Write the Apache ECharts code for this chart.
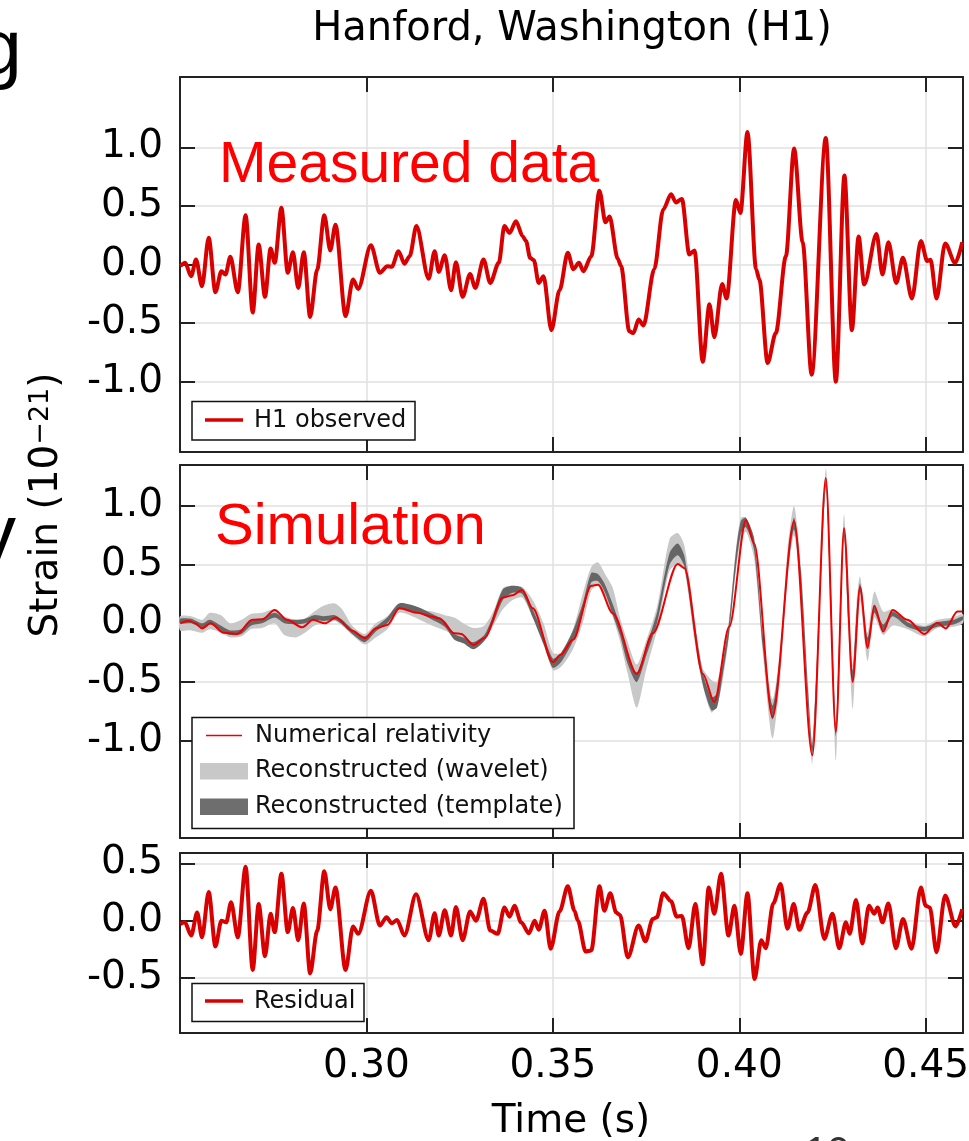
<!DOCTYPE html>
<html><head><meta charset="utf-8">
<script src="https://cdn.jsdelivr.net/npm/echarts@6/dist/echarts.min.js"></script>
<style>html,body{margin:0;padding:0;background:#fff}#c{width:969px;height:1141px}</style>
</head><body><div id="c"></div>
<script>
// ---------------- data ----------------
const xRange = [0.25, 0.46];
const xTicks = [0.30, 0.35, 0.40, 0.45];
const yTicksStrain = [-1.0, -0.5, 0.0, 0.5, 1.0];
const yTicksResidual = [-0.5, 0.0, 0.5];
const yRangeObserved = [-1.6, 1.6];
const yRangeSimulation = [-1.83, 1.35];
const yRangeResidual = [-0.98, 0.59];

const h1Time = [0.2501,0.2514,0.2530,0.2543,0.2559,0.2577,0.2595,0.2611,0.2622,0.2635,0.2655,0.2676,0.2695,0.2711,0.2728,0.2743,0.2754,0.2772,0.2789,0.2803,0.2817,0.2832,0.2849,0.2868,0.2887,0.2903,0.2917,0.2944,0.2964,0.2978,0.3012,0.3036,0.3056,0.3068,0.3086,0.3102,0.3116,0.3134,0.3167,0.3183,0.3194,0.3210,0.3227,0.3240,0.3258,0.3278,0.3292,0.3314,0.3332,0.3355,0.3370,0.3384,0.3401,0.3419,0.3428,0.3439,0.3449,0.3462,0.3475,0.3496,0.3518,0.3540,0.3555,0.3570,0.3582,0.3603,0.3625,0.3641,0.3652,0.3674,0.3683,0.3705,0.3716,0.3730,0.3743,0.3772,0.3796,0.3817,0.3830,0.3846,0.3866,0.3880,0.3902,0.3920,0.3933,0.3954,0.3966,0.3991,0.4003,0.4022,0.4045,0.4054,0.4076,0.4098,0.4125,0.4147,0.4170,0.4194,0.4232,0.4259,0.4282,0.4302,0.4320,0.4335,0.4368,0.4384,0.4400,0.4421,0.4439,0.4463,0.4487,0.4504,0.4513,0.4529,0.4552,0.4579,0.4598];
const h1Strain = [-0.014,0.014,-0.10,0.043,-0.185,0.228,-0.236,-0.057,-0.085,0.066,-0.236,0.42,-0.41,0.17,-0.276,0.137,0.014,0.484,-0.071,0.105,-0.20,0.105,-0.447,-0.043,0.42,0.12,0.34,-0.44,-0.128,-0.208,0.165,-0.071,-0.014,-0.02,0.114,0.006,0.071,0.328,-0.122,0.114,-0.063,0.08,-0.22,0.02,-0.276,-0.08,-0.20,0.043,-0.157,0.014,0.328,0.27,0.37,0.242,0.20,0.057,0.037,-0.157,-0.10,-0.56,-0.22,0.10,-0.04,0.014,-0.057,0.07,0.63,0.36,0.41,0.05,-0.014,-0.57,-0.585,-0.47,-0.52,-0.04,0.47,0.60,0.53,0.56,0.086,0.12,-0.83,-0.34,-0.62,-0.166,-0.29,0.55,0.44,1.13,-0.04,-0.13,-0.84,-0.585,0.07,0.99,0.19,-0.94,1.08,-1.00,0.76,-0.56,0.24,-0.17,0.26,-0.086,0.19,-0.157,0.057,-0.29,0.20,0.03,0.04,-0.29,0.18,0.014,0.19];

const nrTime = [0.2501,0.2523,0.2541,0.2559,0.2582,0.2617,0.2653,0.2694,0.2721,0.2754,0.2787,0.2828,0.2857,0.2889,0.2918,0.2962,0.2996,0.3025,0.3056,0.3088,0.3137,0.3177,0.3195,0.3236,0.3254,0.3287,0.3316,0.3366,0.3392,0.3418,0.3446,0.3500,0.3520,0.3554,0.3603,0.3621,0.3661,0.3725,0.3768,0.3835,0.3853,0.3902,0.3933,0.3973,0.4018,0.4040,0.4089,0.4147,0.4196,0.4232,0.4259,0.4281,0.4304,0.4324,0.4344,0.4362,0.4386,0.4411,0.4451,0.4496,0.4531,0.4554,0.4585,0.4598];
const nrStrain = [0,0.023,0,-0.043,0,-0.08,-0.09,0.03,0.034,0.114,0.03,-0.034,0.03,0,0.05,-0.063,-0.128,-0.043,-0.014,0.128,0.09,0.057,0.043,-0.085,-0.09,-0.185,-0.128,0.22,0.24,0.285,0.128,-0.33,-0.27,-0.14,0.32,0.33,0.085,-0.43,-0.085,0.507,0.47,-0.43,-0.67,-0.03,0.88,0.68,-0.80,0.87,-1.125,1.24,-0.925,0.81,-0.50,0.31,-0.21,0.15,-0.07,0.114,0.03,-0.09,0.006,-0.043,0.10,0.10];

const bandTime = [0.2500,0.2530,0.2560,0.2580,0.2610,0.2635,0.2665,0.2690,0.2720,0.2754,0.2780,0.2810,0.2835,0.2860,0.2885,0.2915,0.2935,0.2962,0.2996,0.3025,0.3056,0.3088,0.3137,0.3177,0.3210,0.3236,0.3260,0.3287,0.3316,0.3340,0.3366,0.3392,0.3418,0.3446,0.3475,0.3500,0.3522,0.3554,0.3580,0.3603,0.3621,0.3640,0.3661,0.3680,0.3700,0.3725,0.3750,0.3780,0.3813,0.3835,0.3853,0.3880,0.3902,0.3925,0.3940,0.3955,0.3973,0.3990,0.4004,0.4018,0.4040,0.4063,0.4089,0.4110,0.4130,0.4147,0.4165,0.4185,0.4196,0.4210,0.4232,0.4245,0.4259,0.4270,0.4281,0.4293,0.4304,0.4315,0.4324,0.4344,0.4362,0.4386,0.4411,0.4451,0.4496,0.4531,0.4575,0.4600];
const templateLow  = [0.00,0.00,-0.04,-0.01,-0.06,-0.10,-0.09,-0.02,0.00,0.05,0.00,-0.01,0.00,0.03,0.02,0.03,-0.01,-0.09,-0.16,-0.07,0.00,0.12,0.09,0.03,-0.03,-0.14,-0.17,-0.22,-0.15,0.00,0.20,0.26,0.25,0.05,-0.18,-0.38,-0.33,-0.15,0.08,0.35,0.36,0.26,0.07,-0.10,-0.34,-0.50,-0.28,0.01,0.50,0.58,0.48,-0.10,-0.52,-0.74,-0.72,-0.45,-0.08,0.45,0.76,0.82,0.62,-0.20,-0.82,-0.36,0.45,0.80,0.30,-0.72,-1.12,-0.30,1.16,0.20,-0.96,-0.10,0.74,0.00,-0.50,0.00,0.27,-0.20,0.09,-0.06,0.06,-0.03,-0.07,-0.03,-0.01,0.03];
const templateHigh = [0.04,0.04,0.00,0.03,-0.02,-0.06,-0.05,0.02,0.04,0.09,0.04,0.03,0.04,0.07,0.06,0.07,0.03,-0.05,-0.11,-0.03,0.05,0.17,0.14,0.08,0.02,-0.09,-0.12,-0.16,-0.10,0.07,0.29,0.32,0.30,0.12,-0.10,-0.30,-0.25,-0.06,0.17,0.43,0.42,0.33,0.16,-0.02,-0.25,-0.42,-0.20,0.10,0.60,0.68,0.57,0.00,-0.42,-0.63,-0.60,-0.35,0.02,0.58,0.87,0.90,0.72,-0.10,-0.70,-0.25,0.55,0.90,0.45,-0.60,-1.04,-0.20,1.24,0.35,-0.85,0.05,0.82,0.10,-0.40,0.10,0.34,-0.12,0.14,-0.01,0.10,0.01,-0.03,0.01,0.03,0.06];
const waveletLow  = [-0.06,-0.06,-0.08,-0.05,-0.08,-0.12,-0.11,-0.05,-0.04,0.00,-0.10,-0.12,-0.08,-0.02,0.00,0.02,-0.02,-0.10,-0.18,-0.12,-0.05,0.09,0.04,-0.02,-0.06,-0.10,-0.13,-0.16,-0.14,-0.02,0.12,0.20,0.22,0.05,-0.15,-0.40,-0.37,-0.22,0.00,0.28,0.33,0.22,0.05,-0.15,-0.42,-0.72,-0.40,-0.05,0.45,0.50,0.45,-0.15,-0.53,-0.76,-0.70,-0.50,-0.10,0.42,0.70,0.78,0.55,-0.25,-0.98,-0.45,0.40,0.75,0.25,-0.75,-1.20,-0.35,1.15,0.20,-1.17,-0.15,0.70,-0.10,-0.73,-0.15,0.20,-0.32,0.05,-0.10,-0.02,-0.05,-0.11,-0.04,-0.03,0.00];
const waveletHigh = [0.06,0.06,0.03,0.09,0.07,0.00,0.03,0.08,0.09,0.12,0.06,0.03,0.04,0.10,0.15,0.17,0.12,-0.02,-0.09,0.00,0.06,0.17,0.12,0.10,0.07,0.05,0.00,-0.04,-0.02,0.10,0.30,0.32,0.31,0.20,0.00,-0.25,-0.25,-0.05,0.25,0.48,0.52,0.42,0.30,0.05,-0.15,-0.35,-0.15,0.15,0.72,0.77,0.66,0.05,-0.38,-0.48,-0.50,-0.30,0.05,0.60,0.90,0.90,0.72,-0.05,-0.65,-0.20,0.65,1.00,0.50,-0.55,-1.00,-0.15,1.32,0.40,-0.85,0.10,0.93,0.15,-0.35,0.20,0.40,-0.08,0.27,0.10,0.12,0.03,-0.02,0.03,0.05,0.08];

const resTime = [0.2501,0.2513,0.2530,0.2546,0.2559,0.2577,0.2595,0.2611,0.2624,0.2637,0.2655,0.2676,0.2695,0.2711,0.2728,0.2743,0.2754,0.2772,0.2789,0.2803,0.2817,0.2832,0.2849,0.2868,0.2887,0.2903,0.2917,0.2944,0.2964,0.2978,0.3012,0.3036,0.3054,0.3068,0.3082,0.3102,0.3133,0.3167,0.3183,0.3194,0.3210,0.3227,0.3240,0.3258,0.3278,0.3294,0.3314,0.3332,0.3352,0.3370,0.3384,0.3397,0.3415,0.3436,0.3451,0.3462,0.3478,0.3494,0.3518,0.3540,0.3558,0.3567,0.3588,0.3603,0.3625,0.3638,0.3654,0.3670,0.3680,0.3701,0.3730,0.3748,0.3768,0.3779,0.3796,0.3817,0.3832,0.3846,0.3864,0.3882,0.3902,0.3918,0.3933,0.3951,0.3971,0.3987,0.4004,0.4022,0.4041,0.4059,0.4071,0.4091,0.4111,0.4129,0.4146,0.4161,0.4183,0.4204,0.4228,0.4250,0.4268,0.4286,0.4296,0.4313,0.4330,0.4348,0.4362,0.4371,0.4384,0.4400,0.4420,0.4439,0.4462,0.4487,0.4500,0.4511,0.4529,0.4552,0.4580,0.4598];
const resStrain = [-0.03,-0.015,-0.13,0.07,-0.145,0.25,-0.225,0,-0.015,0.16,-0.145,0.47,-0.43,0.145,-0.31,0.06,-0.10,0.41,-0.10,0.11,-0.17,0.15,-0.46,-0.087,0.43,0.10,0.29,-0.43,-0.05,-0.115,0.26,-0.043,0.03,-0.023,0.006,-0.13,0.23,-0.17,0.064,-0.13,0.09,-0.13,0.12,-0.17,0.08,0,0.19,-0.087,-0.115,0.115,0.035,0.13,-0.015,-0.11,0,-0.08,0.087,-0.245,0.08,0.30,0.087,0,-0.27,-0.26,0.30,0.087,0.24,0.07,0.05,-0.32,-0.043,-0.18,0.014,0.03,0.24,0.17,0.035,0.04,-0.24,0.145,-0.38,0.29,0.06,0.41,-0.13,0.13,-0.29,0.24,-0.51,-0.17,-0.24,0.15,0.32,-0.07,0.145,-0.08,0.07,0.31,-0.16,0.06,-0.24,-0.015,-0.115,0.18,-0.20,0.13,0.06,0.115,-0.015,0.15,-0.24,0.014,-0.245,0.29,0.13,0.115,-0.275,0.22,-0.05,0.10];

// ---------------- chart ----------------
const FONT = 'DejaVu Sans';
const SLIDE_FONT = 'Liberation Sans';
const FRAME = '#222';
const GRIDC = '#e0e0e0';
const zip = (a, b) => a.map((v, i) => [v, b[i]]);

const grids = [
  {left: 180, top: 77, width: 783, height: 375, outerBoundsMode: 'none'},
  {left: 180, top: 465, width: 783, height: 373, outerBoundsMode: 'none'},
  {left: 180, top: 853, width: 783, height: 180, outerBoundsMode: 'none'}
];
const yRanges = [yRangeObserved, yRangeSimulation, yRangeResidual];
const yTickSets = [yTicksStrain, yTicksStrain, yTicksResidual];

const xAxes = [], yAxes = [];
grids.forEach((g, i) => {
  const tick = {show: true, inside: true, length: 15, lineStyle: {color: FRAME, width: 2}};
  const line = {show: true, onZero: false, lineStyle: {color: FRAME, width: 2}};
  xAxes.push({type: 'value', gridIndex: i, position: 'bottom', min: xRange[0], max: xRange[1],
    axisLine: line, axisTick: Object.assign({customValues: xTicks}, tick),
    axisLabel: {show: i === 2, customValues: xTicks, margin: 14, fontSize: 39, fontFamily: FONT, color: '#000',
      formatter: v => v.toFixed(2)},
    splitLine: {show: true, lineStyle: {color: GRIDC, width: 1.5}}});
  xAxes.push({type: 'value', gridIndex: i, position: 'top', min: xRange[0], max: xRange[1],
    axisLine: line, axisTick: Object.assign({customValues: xTicks}, tick),
    axisLabel: {show: false}, splitLine: {show: false}});
  yAxes.push({type: 'value', gridIndex: i, position: 'left', min: yRanges[i][0], max: yRanges[i][1],
    axisLine: line, axisTick: Object.assign({customValues: yTickSets[i]}, tick),
    axisLabel: {show: true, customValues: yTickSets[i], margin: 17, fontSize: 39, fontFamily: FONT, color: '#000',
      formatter: v => v.toFixed(1)},
    splitLine: {show: true, lineStyle: {color: GRIDC, width: 1.5}}});
  yAxes.push({type: 'value', gridIndex: i, position: 'right', min: yRanges[i][0], max: yRanges[i][1],
    axisLine: line, axisTick: Object.assign({customValues: yTickSets[i]}, tick),
    axisLabel: {show: false}, splitLine: {show: false}});
});

function band(lo, hi, color) {
  return function (params, api) {
    const pts = [];
    for (let i = 0; i < bandTime.length; i++) pts.push(api.coord([bandTime[i], hi[i]]));
    for (let i = bandTime.length - 1; i >= 0; i--) pts.push(api.coord([bandTime[i], lo[i]]));
    return {type: 'polygon', shape: {points: pts, smooth: 0.25}, style: {fill: color}};
  };
}

const lineBase = {type: 'line', showSymbol: false, symbol: 'none', silent: true, smooth: 0.3, smoothMonotone: 'x'};
const series = [
  Object.assign({}, lineBase, {name: 'H1 observed', xAxisIndex: 0, yAxisIndex: 0, data: zip(h1Time, h1Strain),
    lineStyle: {color: '#d80000', width: 4}, itemStyle: {color: '#d80000'}, z: 3}),
  {type: 'custom', name: 'Reconstructed (wavelet)', xAxisIndex: 2, yAxisIndex: 2, coordinateSystem: 'cartesian2d',
    data: [[bandTime[0], 0]], renderItem: band(waveletLow, waveletHigh, '#c8c8c8'), silent: true, z: 1},
  {type: 'custom', name: 'Reconstructed (template)', xAxisIndex: 2, yAxisIndex: 2, coordinateSystem: 'cartesian2d',
    data: [[bandTime[0], 0]], renderItem: band(templateLow, templateHigh, '#666666'), silent: true, z: 2},
  Object.assign({}, lineBase, {name: 'Numerical relativity', xAxisIndex: 2, yAxisIndex: 2, data: zip(nrTime, nrStrain),
    lineStyle: {color: '#ee0000', width: 2}, itemStyle: {color: '#ee0000'}, z: 3}),
  Object.assign({}, lineBase, {name: 'Residual', xAxisIndex: 4, yAxisIndex: 4, data: zip(resTime, resStrain),
    lineStyle: {color: '#d80000', width: 4}, itemStyle: {color: '#d80000'}, z: 3})
];

const txt = (s, x, y, size, opts) => ({type: 'text', x, y, z: 100, silent: true,
  style: Object.assign({text: s, font: size + 'px "' + FONT + '"', fill: '#000', align: 'left', verticalAlign: 'middle'}, opts || {})});

const graphics = [
  // titles / axis names
  txt('Hanford, Washington (H1)', 572, 30, 40, {align: 'center'}),
  txt('Time (s)', 571, 1122, 39, {align: 'center'}),
  {type: 'text', x: 47, y: 505, rotation: Math.PI / 2, z: 100, silent: true,
    style: {text: '{b|Strain (10}{s|\u221221}{b|)}', align: 'center', verticalAlign: 'middle', fill: '#000',
      rich: {b: {fontSize: 39, fontFamily: FONT, lineHeight: 39, verticalAlign: 'bottom', fill: '#000'},
             s: {fontSize: 27, fontFamily: FONT, lineHeight: 27, verticalAlign: 'top', padding: [0, 0, 20, 0], fill: '#000'}}}},
  // slide annotations
  txt('Measured data', 219, 166, 57, {font: '57px "' + SLIDE_FONT + '"', fill: '#ff0000'}),
  txt('Simulation', 215, 528, 58, {font: '58px "' + SLIDE_FONT + '"', fill: '#ff0000'}),
  txt('g', 22, 52, 78, {font: '78px "' + SLIDE_FONT + '"', align: 'right'}),
  txt('y', 16, 538, 80, {font: '80px "' + SLIDE_FONT + '"', align: 'right'}),
  txt('10', 805, 1154, 40, {font: '40px "' + SLIDE_FONT + '"', fill: '#333'}),
  // legend 1
  {type: 'rect', z: 99, silent: true, shape: {x: 192, y: 401.5, width: 223, height: 38.5}, style: {fill: '#fff', stroke: '#111', lineWidth: 1.5}},
  {type: 'line', z: 100, silent: true, shape: {x1: 205, y1: 420, x2: 243, y2: 420}, style: {stroke: '#d80000', lineWidth: 3.5}},
  txt('H1 observed', 254, 420.5, 24, {fill: '#111'}),
  // legend 2
  {type: 'rect', z: 99, silent: true, shape: {x: 192, y: 717.5, width: 382, height: 111}, style: {fill: '#fff', stroke: '#111', lineWidth: 1.5}},
  {type: 'line', z: 100, silent: true, shape: {x1: 206, y1: 735.5, x2: 242, y2: 735.5}, style: {stroke: '#ee0000', lineWidth: 1.5}},
  {type: 'rect', z: 100, silent: true, shape: {x: 200, y: 763, width: 48, height: 16.5}, style: {fill: '#c8c8c8'}},
  {type: 'rect', z: 100, silent: true, shape: {x: 200, y: 798.5, width: 48, height: 16.5}, style: {fill: '#6e6e6e'}},
  txt('Numerical relativity', 255, 736, 24, {fill: '#111'}),
  txt('Reconstructed (wavelet)', 255, 771, 24, {fill: '#111'}),
  txt('Reconstructed (template)', 255, 806.5, 24, {fill: '#111'}),
  // legend 3
  {type: 'rect', z: 99, silent: true, shape: {x: 192, y: 983.5, width: 172, height: 38}, style: {fill: '#fff', stroke: '#111', lineWidth: 1.5}},
  {type: 'line', z: 100, silent: true, shape: {x1: 205, y1: 1001, x2: 243, y2: 1001}, style: {stroke: '#d80000', lineWidth: 3.5}},
  txt('Residual', 254, 1001.5, 24, {fill: '#111'})
];

const chart = echarts.init(document.getElementById('c'), null, {renderer: 'canvas'});
chart.setOption({
  animation: false,
  backgroundColor: '#fff',
  textStyle: {fontFamily: FONT},
  grid: grids,
  xAxis: xAxes,
  yAxis: yAxes,
  series: series,
  graphic: {elements: graphics}
});
</script></body></html>
